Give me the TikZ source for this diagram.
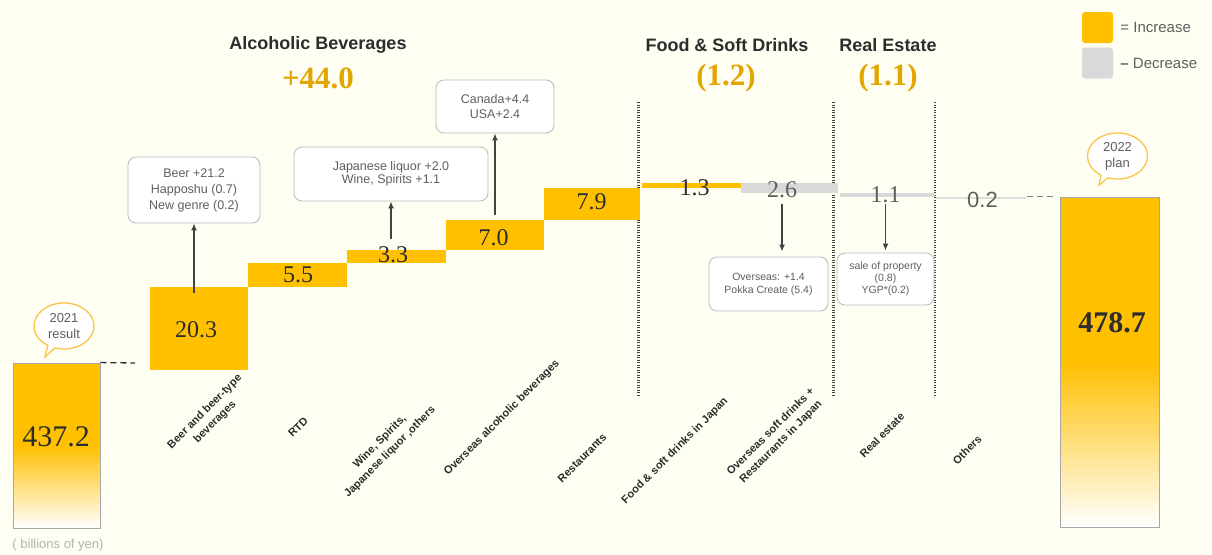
\documentclass[tikz,border=0pt]{standalone}
\usepackage{fontspec}
\setmainfont{Liberation Serif}
\setsansfont{Liberation Sans}
\usetikzlibrary{positioning,shapes.callouts,arrows.meta}

\definecolor{paper}{RGB}{255,254,243}
\definecolor{barorange}{RGB}{255,192,0}
\definecolor{bargrey}{RGB}{217,217,217}
\definecolor{linegrey}{RGB}{222,222,222}
\definecolor{inkgrey}{RGB}{95,95,95}
\definecolor{inkdark}{RGB}{45,45,45}
\definecolor{gold}{RGB}{226,166,0}
\definecolor{bubbleedge}{RGB}{250,196,72}

\begin{document}
\begin{tikzpicture}[
				x=1pt, y=-1pt,
				every node/.style={inner sep=0pt},
				incbar/.style={rectangle, fill=barorange},
				decbar/.style={rectangle, fill=bargrey},
				total/.style={rectangle, draw=gray!70, line width=0.9pt, top color=barorange, bottom color=white, middle color=barorange},
				val/.style={font=\fontsize{24}{26}\selectfont, text=inkdark},
				decval/.style={font=\fontsize{24}{26}\selectfont, text=inkgrey},
				totalval/.style={font=\fontsize{30}{32}\selectfont, text=inkdark},
				head/.style={font=\sffamily\bfseries\fontsize{18}{20}\selectfont, text=inkdark},
				sum/.style={font=\bfseries\fontsize{31}{33}\selectfont, text=gold},
				note/.style={rectangle, draw=gray!55, line width=0.8pt, fill=white, rounded corners=8pt, align=center, text=inkgrey},
				cat/.style={rotate=45, align=center, font=\sffamily\bfseries\fontsize{11}{14.5}\selectfont, text=inkdark},
				link/.style={draw=inkdark!90, line width=1.5pt, -{Latex[length=7pt,width=6pt]}},
				guide/.style={draw=inkdark, line width=1.3pt, dash pattern=on 6pt off 4pt},
				divider/.style={draw=gray!50!black, line width=2.2pt, dash pattern=on 1.2pt off 1.3pt},
				bubble/.style={ellipse callout, draw=bubbleedge, line width=1.3pt, fill=white, minimum width=60pt, minimum height=46pt, align=center, text=inkgrey, font=\sffamily\fontsize{13}{16}\selectfont},
				key/.style={font=\sffamily\fontsize{15}{17}\selectfont, text=inkgrey}
				]
				
				\fill[paper] (0,0) rectangle (1212,554);
				\useasboundingbox (0,0) rectangle (1212,554);
				
				\node[sum] (alcsum) at (318,78) {+44.0};
				\node[head] (alchead) at (318,45) {Alcoholic Beverages};
				\node[sum] (foodsum) at (726,78) {(1.2)};
				\node[head] (foodhead) at (727,45) {Food \& Soft Drinks};
				\node[sum] (estatesum) at (888,78) {(1.1)};
				\node[head] (estatehead) at (888,45) {Real Estate};
				
				\draw[divider] (638.5,102) -- (638.5,397);
				\draw[divider] (833.5,102) -- (833.5,397);
				\draw[divider] (935,102) -- (935,397);
				
				\node[total, minimum width=87pt, minimum height=165pt] (start) at (56.5,445.5) {};
				\node[totalval] (startval) at (56,437) {437.2};
				\node[total, minimum width=99pt, minimum height=330pt] (plan) at (1109.5,362) {};
				\node[totalval, font=\bfseries\fontsize{30}{32}\selectfont] (planval) at (1112,323) {478.7};
				
				\node[incbar, minimum width=98pt, minimum height=83pt] (beer) at (199,328.5) {};
				\node[incbar, minimum width=99pt, minimum height=24pt] (rtd) at (297.5,275) {};
				\node[incbar, minimum width=99pt, minimum height=13pt] (wine) at (396.5,256.5) {};
				\node[incbar, minimum width=98pt, minimum height=30pt] (overseas) at (495,235) {};
				\node[incbar, minimum width=96pt, minimum height=32pt] (restaurants) at (592,204) {};
				\node[incbar, minimum width=99pt, minimum height=5pt] (softjp) at (691.5,185.5) {};
				\node[decbar, minimum width=97pt, minimum height=10pt] (softos) at (789.5,188) {};
				\node[decbar, minimum width=95pt, minimum height=4pt] (estate) at (887.5,195) {};
				\node[rectangle, fill=linegrey, minimum width=90pt, minimum height=2pt] (others) at (981,198) {};
				
				\node[val] (v1) at (196,330) {20.3};
				\node[val] (v2) at (298,274.5) {5.5};
				\node[val] (v3) at (393,255) {3.3};
				\node[val] (v4) at (493.5,238) {7.0};
				\node[val] (v5) at (591.5,201.5) {7.9};
				\node[val] (v6) at (694.5,187.5) {1.3};
				\node[decval] (v7) at (782,190) {2.6};
				\node[decval] (v8) at (885.5,195) {1.1};
				\node[decval, font=\sffamily\fontsize{22}{24}\selectfont] (v9) at (982.5,200) {0.2};
				
				\coordinate (startgap) at (135,363);
				\draw[guide] (start.north east) -- (startgap);
				\draw[guide, draw=gray] ([xshift=1pt]others.east |- plan.north west) -- ([xshift=-3pt]plan.north west);
				
				\node[note, minimum width=132pt, minimum height=66pt, font=\sffamily\fontsize{12.5}{16}\selectfont] (beernote) at (194,190) {Beer +21.2\\Happoshu (0.7)\\New genre (0.2)};
				\node[note, minimum width=194pt, minimum height=54pt, font=\sffamily\fontsize{12.5}{12.5}\selectfont] (winenote) at (391,174) {Japanese liquor +2.0\\Wine, Spirits +1.1};
				\node[note, minimum width=118pt, minimum height=53pt, font=\sffamily\fontsize{12.5}{15}\selectfont] (overseasnote) at (495,106.5) {Canada+4.4\\USA+2.4};
				\node[note, minimum width=119pt, minimum height=54pt, font=\sffamily\fontsize{10.5}{13}\selectfont] (softosnote) at (768.5,284) {Overseas: +1.4\\Pokka Create (5.4)};
				\node[note, minimum width=97pt, minimum height=52pt, font=\sffamily\fontsize{10.5}{12}\selectfont] (estatenote) at (885.5,279) {sale of property\\(0.8)\\YGP*(0.2)};
				
				\draw[link] ([yshift=-6pt]beernote.south |- beer.north) -- (beernote.south);
				\draw[link] ([yshift=11pt]winenote.south |- wine.north) -- (winenote.south);
				\draw[link] ([yshift=5pt]overseasnote.south |- overseas.north) -- (overseasnote.south);
				\draw[link, shorten >=5pt] ([yshift=-6pt]v7.south) -- (v7.south |- softosnote.north);
				\draw[link, shorten >=2pt] ([yshift=-1pt]v8.south) -- (v8.south |- estatenote.north);
				
				\node[cat] (c1) at (210,417) {Beer and beer-type\\beverages};
				\node[cat] (c2) at (298,427) {RTD};
				\node[cat] (c3) at (385,447) {Wine, Spirits,\\Japanese liquor ,others};
				\node[cat] (c4) at (502,418) {Overseas alcoholic beverages};
				\node[cat] (c5) at (582,458) {Restaurants};
				\node[cat] (c6) at (675,451) {Food \& soft drinks in Japan};
				\node[cat] (c7) at (776,437) {Overseas soft drinks +\\Restaurants in Japan};
				\node[cat] (c8) at (882,435) {Real estate};
				\node[cat] (c9) at (967,450) {Others};
				
				\node[bubble, callout absolute pointer={(45,357)}] (resultbubble) at (64,326) {2021\\result};
				\node[bubble, callout absolute pointer={(1099,185)}] (planbubble) at (1117.5,156) {2022\\plan};
				\node[font=\sffamily\fontsize{13}{15}\selectfont, text=gray!60] (unit) at (58,545) {( billions of yen)};
				
				\node[incbar, minimum size=31pt, rounded corners=3pt] (keyinc) at (1097.5,27.5) {};
				\node[decbar, minimum size=31pt, rounded corners=3pt] (keydec) at (1097.5,63) {};
				\node[key, right=7pt of keyinc] (keyinctext) {= Increase};
				\node[key, right=7pt of keydec] (keydectext) {\textbf{--} Decrease};
				
			\end{tikzpicture}
\end{document}
